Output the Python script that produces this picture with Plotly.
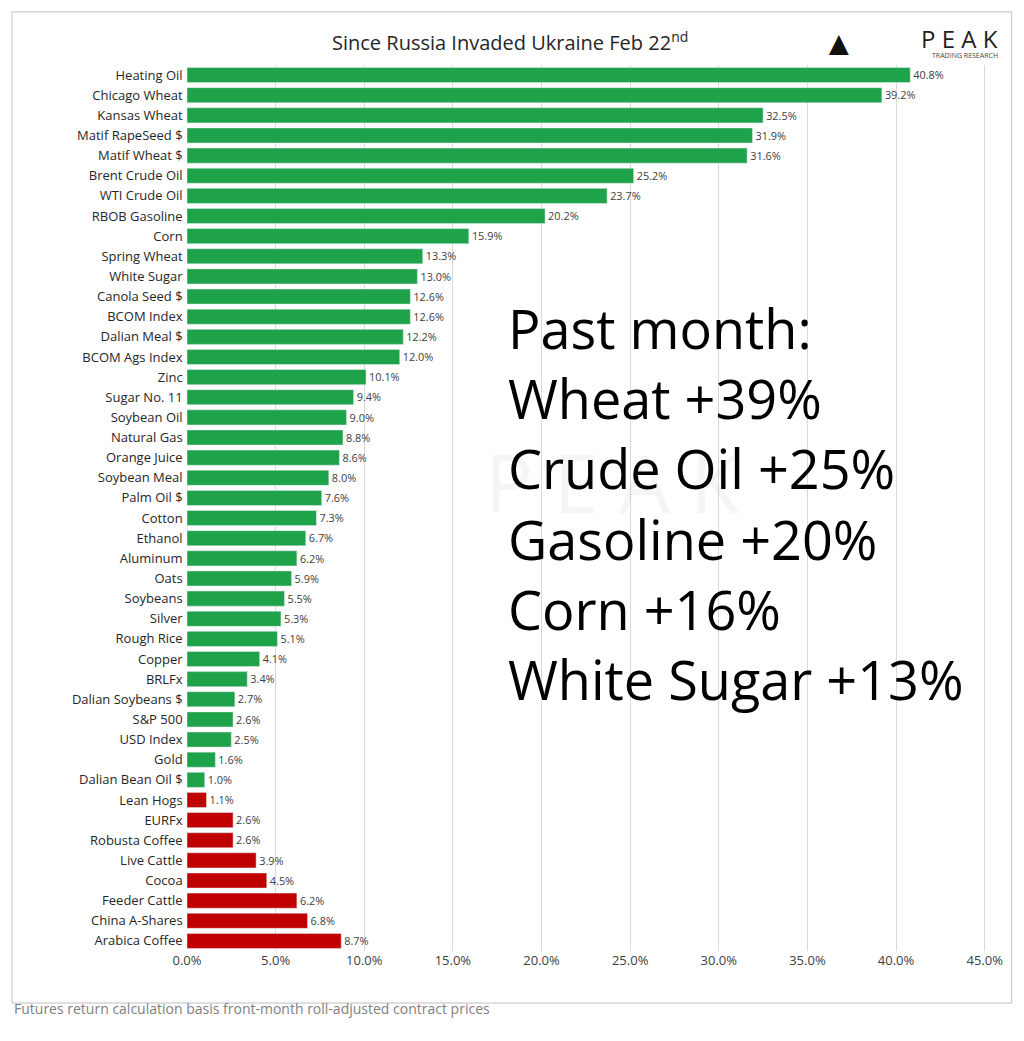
import plotly.graph_objects as go

names = ["Heating Oil", "Chicago Wheat", "Kansas Wheat", "Matif RapeSeed $", "Matif Wheat $",
         "Brent Crude Oil", "WTI Crude Oil", "RBOB Gasoline", "Corn", "Spring Wheat",
         "White Sugar", "Canola Seed $", "BCOM Index", "Dalian Meal $", "BCOM Ags Index",
         "Zinc", "Sugar No. 11", "Soybean Oil", "Natural Gas", "Orange Juice",
         "Soybean Meal", "Palm Oil $", "Cotton", "Ethanol", "Aluminum", "Oats",
         "Soybeans", "Silver", "Rough Rice", "Copper", "BRLFx", "Dalian Soybeans $",
         "S&P 500", "USD Index", "Gold", "Dalian Bean Oil $", "Lean Hogs", "EURFx",
         "Robusta Coffee", "Live Cattle", "Cocoa", "Feeder Cattle", "China A-Shares",
         "Arabica Coffee"]
values = [40.8, 39.2, 32.5, 31.9, 31.6, 25.2, 23.7, 20.2, 15.9, 13.3, 13.0, 12.6, 12.6,
          12.2, 12.0, 10.1, 9.4, 9.0, 8.8, 8.6, 8.0, 7.6, 7.3, 6.7, 6.2, 5.9, 5.5, 5.3,
          5.1, 4.1, 3.4, 2.7, 2.6, 2.5, 1.6, 1.0, 1.1, 2.6, 2.6, 3.9, 4.5, 6.2, 6.8, 8.7]
negative = [False] * 36 + [True] * 8
ticks = [0, 5, 10, 15, 20, 25, 30, 35, 40, 45]

colors = ["#c00000" if n else "#1fa34a" for n in negative]

fig = go.Figure(go.Bar(
    x=values, y=names, orientation="h", marker_color=colors, width=0.75,
    text=[f"{v:.1f}%" for v in values], textposition="outside",
    textfont=dict(size=13, color="#404040"), cliponaxis=False,
))

summary = "Past month:<br>Wheat +39%<br>Crude Oil +25%<br>Gasoline +20%<br>Corn +16%<br>White Sugar +13%"

fig.update_layout(
    width=1016, height=1033, plot_bgcolor="white", paper_bgcolor="white",
    margin=dict(l=179, r=34, t=57, b=90),
    font=dict(family="Open Sans", color="#262626"),
    showlegend=False,
    xaxis=dict(range=[0, 45.3], tickvals=ticks, ticktext=[f"{t:.1f}%" for t in ticks],
               showgrid=True, gridcolor="#d9d9d9", zeroline=False, tickfont=dict(size=13, color="#404040")),
    yaxis=dict(autorange="reversed", tickfont=dict(size=13, color="#262626"), ticksuffix=" ",
               automargin=False),
    shapes=[dict(type="rect", xref="paper", yref="paper", x0=-0.218, x1=1.027, y0=-0.0587, y1=1.060,
                 line=dict(color="#bfbfbf", width=1))],
    annotations=[
        dict(text="Since Russia Invaded Ukraine Feb 22<sup>nd</sup>", xref="paper", yref="paper",
             x=0.402, y=1.026, showarrow=False, font=dict(size=20, color="#262626"), yanchor="middle"),
        dict(text="P E A K", xref="paper", yref="paper", x=1.012, y=1.030, xanchor="right",
             yanchor="middle", showarrow=False, font=dict(size=24, color="#222222")),
        dict(text="TRADING RESEARCH", xref="paper", yref="paper", x=1.012, y=1.011, xanchor="right",
             yanchor="middle", showarrow=False, font=dict(size=7, color="#444444")),
        dict(text="▲", xref="paper", yref="paper", x=0.836, y=1.026, yanchor="middle",
             showarrow=False, font=dict(size=34, color="#111111")),
        dict(text="P E A K", xref="paper", yref="paper", x=0.53, y=0.53, showarrow=False,
             font=dict(size=80, color="rgba(0,0,0,0.04)")),
        dict(text=summary, xref="x", yref="paper", x=18.0, y=0.505, xanchor="left", align="left",
             showarrow=False, font=dict(size=54, color="#000000", family="Open Sans")),
        dict(text="Futures return calculation basis front-month roll-adjusted contract prices",
             xref="paper", yref="paper", x=-0.218, y=-0.078, xanchor="left", showarrow=False,
             font=dict(size=14, color="#808080")),
    ],
)

fig.write_html("out.html")
